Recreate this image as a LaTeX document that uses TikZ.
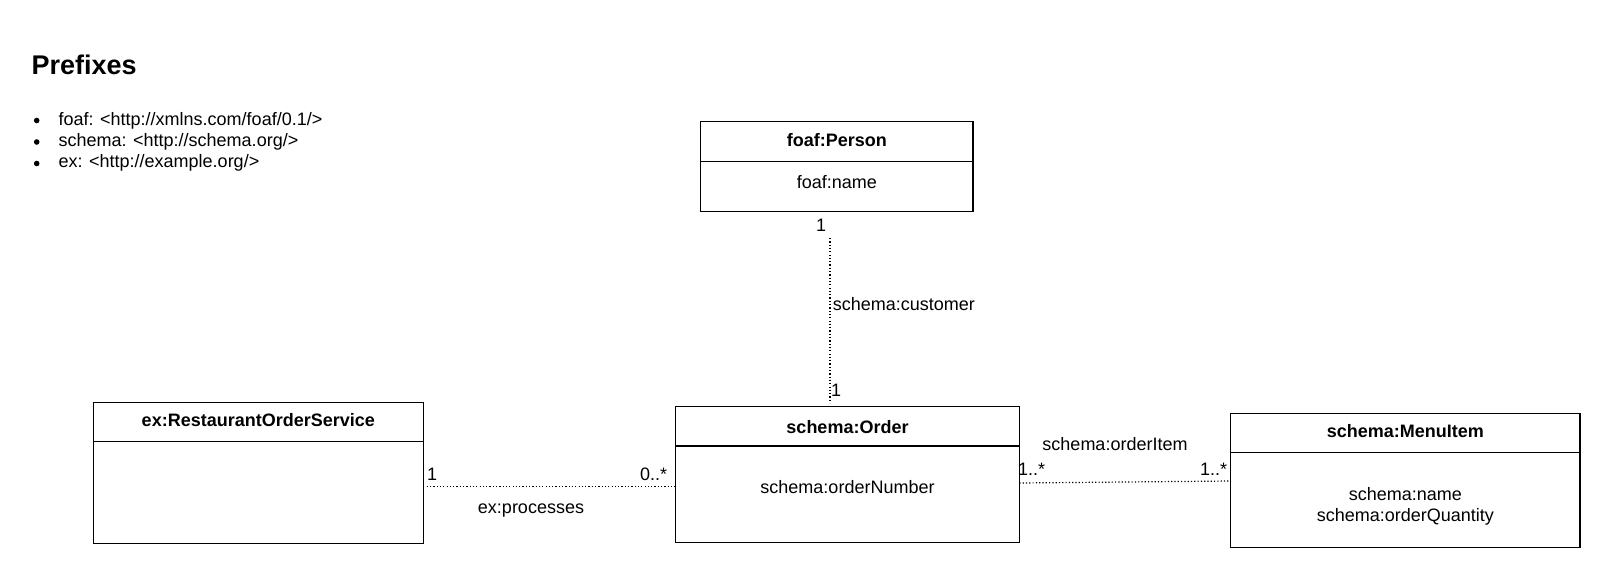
\documentclass[tikz,border=0pt]{standalone}
\usepackage{fontspec}
\setmainfont{Liberation Sans}
\tikzset{
  classbox/.style={draw, line width=1.4pt, inner sep=0pt, outer sep=0pt},
  divider/.style={line width=1.4pt},
  lbl/.style={inner sep=0pt, outer sep=0pt, font=\fontsize{18}{21.7}\selectfont},
  ttl/.style={inner sep=0pt, outer sep=0pt, font=\fontsize{18}{21.7}\selectfont\bfseries},
  assoc/.style={line width=1.2pt, dash pattern=on 1.2pt off 2.1pt},
  bulletdot/.style={circle, fill=black, inner sep=0pt, minimum size=5.6pt},
}
\begin{document}
\begin{tikzpicture}[x=1pt,y=-1pt]
\useasboundingbox (0,0) rectangle (1611,584);

% ---- Prefixes ----
\node[inner sep=0pt, anchor=base west, font=\fontsize{27}{31}\selectfont\bfseries] (pfx) at (31.5,74) {Prefixes};
\node[bulletdot] (b1) at (36.7,120.5) {};
\node[bulletdot] (b2) at (36.7,142) {};
\node[bulletdot] (b3) at (36.7,163.5) {};
\node[lbl, anchor=base west] (l1) at (58.5,125) {foaf: <http://xmlns.com/foaf/0.1/>};
\node[lbl, anchor=base west] (l2) at (58.5,146.7) {schema: <http://schema.org/>};
\node[lbl, anchor=base west] (l3) at (58.5,167.3) {ex: <http://example.org/>};

% ---- foaf:Person ----
\node[classbox, anchor=north west, minimum width=272.3pt, minimum height=90pt] (person) at (700.7,121.7) {};
\draw[divider] (person.west |- 0,161.7) -- (person.east |- 0,161.7);
\node[ttl, anchor=base] (personT) at (836.9,146.7) {foaf:Person};
\node[lbl, anchor=base] (personA) at (836.9,188.3) {foaf:name};

% ---- ex:RestaurantOrderService ----
\node[classbox, anchor=north west, minimum width=330pt, minimum height=140.6pt] (rs) at (93.3,402.7) {};
\draw[divider] (rs.west |- 0,441.7) -- (rs.east |- 0,441.7);
\node[ttl, anchor=base] (rsT) at (258.3,426.7) {ex:RestaurantOrderService};

% ---- schema:Order ----
\node[classbox, anchor=north west, minimum width=343.6pt, minimum height=135.6pt] (order) at (675.7,406.7) {};
\draw[divider] (order.west |- 0,446) -- (order.east |- 0,446);
\node[ttl, anchor=base] (orderT) at (847.5,433.3) {schema:Order};
\node[lbl, anchor=base] (orderA) at (847.5,493.5) {schema:orderNumber};

% ---- schema:MenuItem ----
\node[classbox, anchor=north west, minimum width=349.3pt, minimum height=134.4pt] (mi) at (1230.7,413.3) {};
\draw[divider] (mi.west |- 0,452.3) -- (mi.east |- 0,452.3);
\node[ttl, anchor=base] (miT) at (1405.3,437.3) {schema:MenuItem};
\node[lbl, anchor=base] (miA) at (1405.3,500) {schema:name};
\node[lbl, anchor=base] (miB) at (1405.3,521.7) {schema:orderQuantity};

% ---- connectors ----
\coordinate (cTop) at (830,238);
\coordinate (cBot) at (830,403);
\draw[assoc] (cTop) -- (cBot);
\node[lbl, anchor=base west] (m1) at (816,231.7) {1};
\node[lbl, anchor=base west] (m2) at (831,396.7) {1};
\node[lbl, anchor=base west] (custL) at (832.8,310) {schema:customer};

\coordinate (pStart) at (426.7,486.7);
\draw[assoc] (pStart) -- (order.west |- pStart);
\node[lbl, anchor=base west] (m3) at (427,480) {1};
\node[lbl, anchor=base west] (m4) at (640,480) {0..*};
\node[lbl, anchor=base] (procL) at (531,513.3) {ex:processes};

\draw[assoc] (order.east |- 0,483) -- (mi.west |- 0,481);
\node[lbl, anchor=base west] (m5) at (1018,475) {1..*};
\node[lbl, anchor=base west] (m6) at (1200,475) {1..*};
\node[lbl, anchor=base] (itemL) at (1115,450) {schema:orderItem};
\end{tikzpicture}
\end{document}
